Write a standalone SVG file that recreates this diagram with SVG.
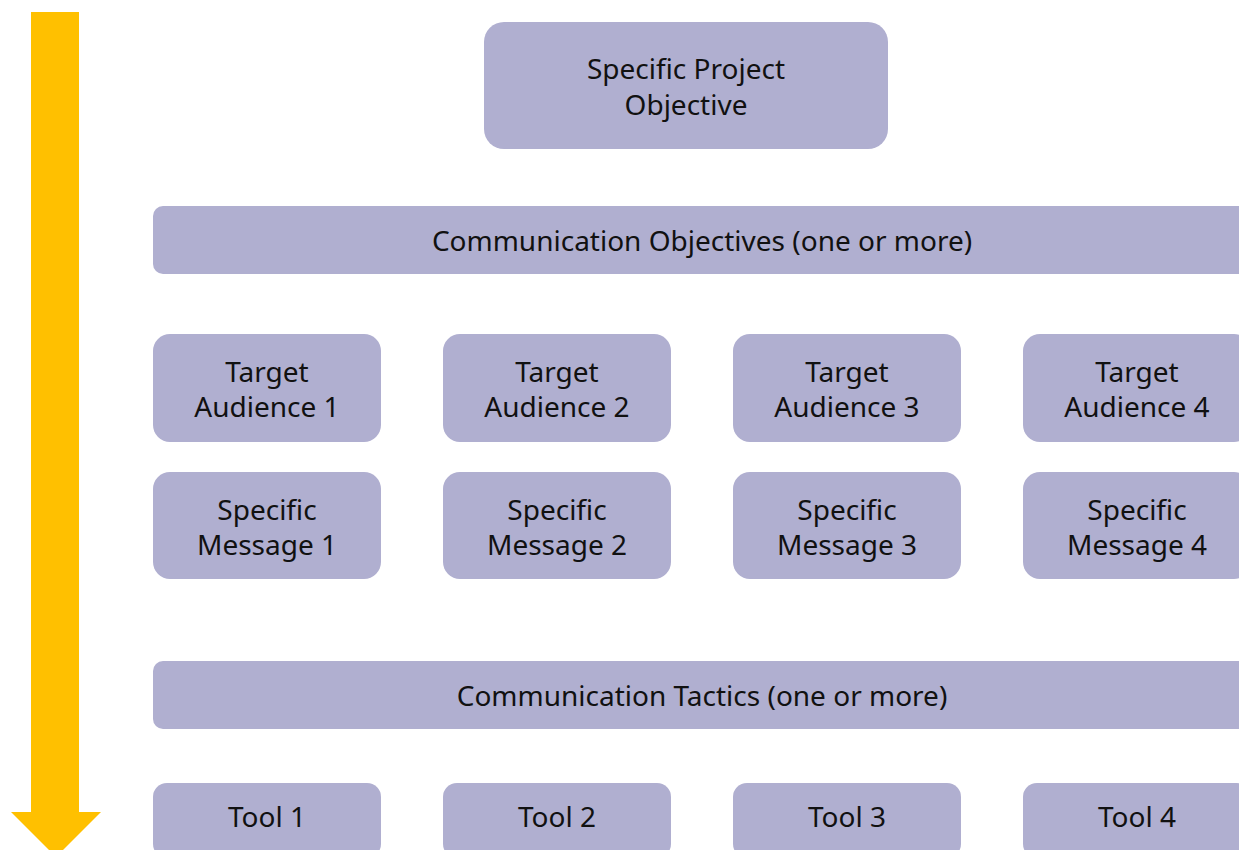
<svg xmlns="http://www.w3.org/2000/svg" width="1239" height="850" viewBox="0 0 1239 850">
<style>
.box{fill:#B0AFD0;}
.t{font-family:"Noto Sans","DejaVu Sans",sans-serif;font-size:28px;fill:#111;text-anchor:middle;}
</style>
<rect x="0" y="0" width="1239" height="850" fill="#FFFFFF"/>
<g id="connectors">
<polygon points="31,12 79,12 79,812 101,812 56,857 11,812 31,812" fill="#FFC000"/>
</g>
<g id="project-objective">
<rect class="box" x="484" y="22" width="404" height="127" rx="20"/>
<text class="t" x="686" y="79">Specific Project</text>
<text class="t" x="686" y="115">Objective</text>
</g>
<g id="comm-objectives">
<rect class="box" x="153" y="206" width="1098" height="68" rx="10"/>
<text class="t" x="702" y="251">Communication Objectives (one or more)</text>
</g>
<g id="audience-1">
<rect class="box" x="153" y="334" width="228" height="108" rx="17"/>
<text class="t" x="267" y="382">Target</text>
<text class="t" x="267" y="417">Audience 1</text>
</g>
<g id="audience-2">
<rect class="box" x="443" y="334" width="228" height="108" rx="17"/>
<text class="t" x="557" y="382">Target</text>
<text class="t" x="557" y="417">Audience 2</text>
</g>
<g id="audience-3">
<rect class="box" x="733" y="334" width="228" height="108" rx="17"/>
<text class="t" x="847" y="382">Target</text>
<text class="t" x="847" y="417">Audience 3</text>
</g>
<g id="audience-4">
<rect class="box" x="1023" y="334" width="228" height="108" rx="17"/>
<text class="t" x="1137" y="382">Target</text>
<text class="t" x="1137" y="417">Audience 4</text>
</g>
<g id="message-1">
<rect class="box" x="153" y="472" width="228" height="107" rx="17"/>
<text class="t" x="267" y="520">Specific</text>
<text class="t" x="267" y="555">Message 1</text>
</g>
<g id="message-2">
<rect class="box" x="443" y="472" width="228" height="107" rx="17"/>
<text class="t" x="557" y="520">Specific</text>
<text class="t" x="557" y="555">Message 2</text>
</g>
<g id="message-3">
<rect class="box" x="733" y="472" width="228" height="107" rx="17"/>
<text class="t" x="847" y="520">Specific</text>
<text class="t" x="847" y="555">Message 3</text>
</g>
<g id="message-4">
<rect class="box" x="1023" y="472" width="228" height="107" rx="17"/>
<text class="t" x="1137" y="520">Specific</text>
<text class="t" x="1137" y="555">Message 4</text>
</g>
<g id="comm-tactics">
<rect class="box" x="153" y="661" width="1098" height="68" rx="10"/>
<text class="t" x="702" y="706">Communication Tactics (one or more)</text>
</g>
<g id="tool-1">
<rect class="box" x="153" y="783" width="228" height="75" rx="14"/>
<text class="t" x="267" y="827">Tool 1</text>
</g>
<g id="tool-2">
<rect class="box" x="443" y="783" width="228" height="75" rx="14"/>
<text class="t" x="557" y="827">Tool 2</text>
</g>
<g id="tool-3">
<rect class="box" x="733" y="783" width="228" height="75" rx="14"/>
<text class="t" x="847" y="827">Tool 3</text>
</g>
<g id="tool-4">
<rect class="box" x="1023" y="783" width="228" height="75" rx="14"/>
<text class="t" x="1137" y="827">Tool 4</text>
</g>
</svg>
